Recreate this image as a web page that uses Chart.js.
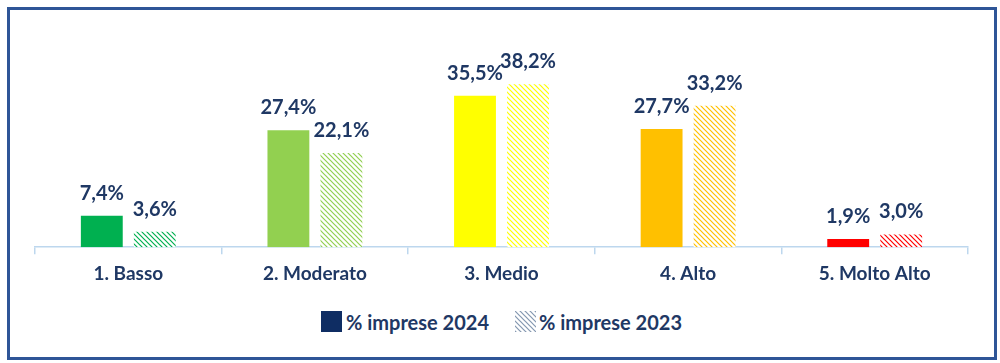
<!DOCTYPE html>
<html>
<head>
<meta charset="utf-8">
<script src="https://cdn.jsdelivr.net/npm/chart.js@4/dist/chart.umd.min.js"></script>
<style>
    body { margin: 0; background: #fff; font-family: Lato, "Open Sans", sans-serif; }
    #frame { position: absolute; left: 7px; top: 7px; width: 990px; height: 353px; box-sizing: border-box; border: 3px solid #2E5597; }
    #wrap { position: absolute; left: 0; top: 0; width: 1000px; height: 300px; }
    #legend { position: absolute; left: 0; top: 310px; width: 1000px; height: 24px; font-weight: bold; font-size: 20px; color: #1F3864; }
    .item { position: absolute; top: 0; height: 24px; line-height: 24px; white-space: nowrap; }
    .box { position: absolute; top: 1px; width: 21px; height: 21px; }
</style>
</head>
<body>
<div id="frame"></div>
<div id="wrap"><canvas id="chart"></canvas></div>
<div id="legend">
    <div class="item" style="left:321px"><span class="box" style="left:0;background:#0F2D63"></span><span style="margin-left:25px">% imprese 2024</span></div>
    <div class="item" style="left:515px"><span class="box" id="hatchBox" style="left:0"></span><span style="margin-left:24px">% imprese 2023</span></div>
</div>
<script>
const categories = ['1. Basso', '2. Moderato', '3. Medio', '4. Alto', '5. Molto Alto'];
const values2024 = [7.4, 27.4, 35.5, 27.7, 1.9];
const values2023 = [3.6, 22.1, 38.2, 33.2, 3.0];
const barColors = ['#00B050', '#92D050', '#FFFF00', '#FFC000', '#FF0000'];
const seriesLabels = ['% imprese 2024', '% imprese 2023'];

const navy = '#1F3864';

// diagonal hatch, lines running top-left to bottom-right
function hatch(color) {
    const s = 5;
    const c = document.createElement('canvas');
    c.width = s; c.height = s;
    const g = c.getContext('2d');
    g.fillStyle = '#fff';
    g.fillRect(0, 0, s, s);
    g.strokeStyle = color;
    g.lineWidth = 1.2;
    g.beginPath();
    g.moveTo(-1, -1); g.lineTo(s + 1, s + 1);
    g.moveTo(-1, s - 1); g.lineTo(1, s + 1);
    g.moveTo(s - 1, -1); g.lineTo(s + 1, 1);
    g.stroke();
    return { canvas: c, pattern: g.createPattern(c, 'repeat') };
}

const hatchFills = barColors.map(c => hatch(c).pattern);
const legendHatch = hatch('#8497B0');
document.getElementById('hatchBox').style.background = 'url(' + legendHatch.canvas.toDataURL() + ')';

const valueLabels = {
    id: 'valueLabels',
    afterDatasetsDraw(chart) {
        const ctx = chart.ctx;
        ctx.save();
        ctx.font = 'bold 20px Lato';
        ctx.fillStyle = navy;
        ctx.textAlign = 'center';
        ctx.textBaseline = 'alphabetic';
        chart.data.datasets.forEach((ds, i) => {
            chart.getDatasetMeta(i).data.forEach((bar, j) => {
                ctx.fillText(ds.data[j].toFixed(1).replace('.', ',') + '%', bar.x, bar.y - 16);
            });
        });
        ctx.restore();
    }
};

new Chart(document.getElementById('chart'), {
    type: 'bar',
    data: {
        labels: categories,
        datasets: [
            { label: seriesLabels[0], data: values2024, backgroundColor: barColors },
            { label: seriesLabels[1], data: values2023, backgroundColor: hatchFills }
        ]
    },
    options: {
        responsive: true,
        maintainAspectRatio: false,
        animation: false,
        categoryPercentage: 0.568,
        barPercentage: 0.79,
        layout: { padding: { left: 35, right: 32, top: 34, bottom: 7 } },
        plugins: {
            legend: { display: false },
            tooltip: { enabled: false }
        },
        scales: {
            x: {
                grid: { display: true, offset: true, drawOnChartArea: false, drawTicks: true, tickLength: 7, color: '#BDD7EE', lineWidth: 1.5 },
                border: { display: true, color: '#BDD7EE', width: 1.5 },
                ticks: { color: navy, padding: 8, font: { family: 'Lato', weight: 'bold', size: 19 } }
            },
            y: {
                display: false,
                min: 0,
                max: 50
            }
        }
    },
    plugins: [valueLabels]
});
</script>
</body>
</html>
